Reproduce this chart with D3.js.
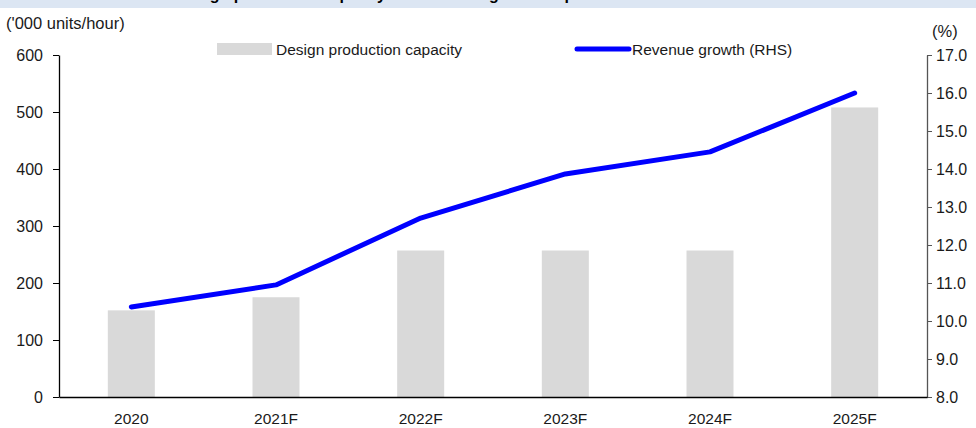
<!DOCTYPE html>
<html>
<head>
<meta charset="utf-8">
<script src="https://cdn.jsdelivr.net/npm/d3@7"></script>
<style>
  html, body { margin: 0; padding: 0; background: #fff; }
  svg { display: block; font-family: "Liberation Sans", Arial, sans-serif; }
  .tick text { fill: #1a1a1a; }
</style>
</head>
<body>
<svg id="chart" width="976" height="428"></svg>
<script>
// Chart data
const years = ["2020", "2021F", "2022F", "2023F", "2024F", "2025F"];
const capacity = [152, 175, 257, 257, 257, 508];               // '000 units/hour
const revenueGrowth = [10.37, 10.95, 12.71, 13.87, 14.45, 16.0]; // %
const leftTicks = [0, 100, 200, 300, 400, 500, 600];
const rightTicks = [8, 9, 10, 11, 12, 13, 14, 15, 16, 17];

const svg = d3.select("#chart");
const W = 976, H = 428;
const plot = { left: 59, right: 927, top: 55, bottom: 397 };

// Title band
svg.append("rect").attr("x", 0).attr("y", 0).attr("width", W).attr("height", 8)
  .attr("fill", "#dce6f3");
svg.append("text")
  .attr("x", 176).attr("y", -0.5)
  .attr("font-size", 16).attr("font-weight", "bold").attr("fill", "#000")
  .text("Design production capacity and revenue growth expectations");

// Scales
const x = d3.scaleBand().domain(years).range([plot.left, plot.right])
  .paddingInner(0.675).paddingOuter(0.3375);
const yL = d3.scaleLinear().domain([0, 600]).range([plot.bottom, plot.top]);
const yR = d3.scaleLinear().domain([8, 17]).range([plot.bottom, plot.top]);

// Bars
svg.append("g").selectAll("rect").data(years).join("rect")
  .attr("x", d => x(d))
  .attr("width", x.bandwidth())
  .attr("y", (d, i) => yL(capacity[i]))
  .attr("height", (d, i) => yL(0) - yL(capacity[i]))
  .attr("fill", "#d9d9d9");

// Left axis
const axL = svg.append("g").attr("transform", `translate(${plot.left},0)`)
  .call(d3.axisLeft(yL).tickValues(leftTicks).tickSize(6).tickPadding(10).tickSizeOuter(0));
axL.select(".domain").attr("stroke", "#000").attr("stroke-width", 1.3);
axL.selectAll(".tick line").attr("stroke", "#000");
axL.selectAll(".tick text").attr("font-size", 16);

// Right axis
const axR = svg.append("g").attr("transform", `translate(${plot.right},0)`)
  .call(d3.axisRight(yR).tickValues(rightTicks).tickFormat(d3.format(".1f"))
    .tickSize(5).tickPadding(4).tickSizeOuter(0));
axR.select(".domain").attr("stroke", "#555").attr("stroke-width", 1.3);
axR.selectAll(".tick line").attr("stroke", "#555");
axR.selectAll(".tick text").attr("font-size", 16);

// Bottom axis (category labels, no ticks)
const axB = svg.append("g").attr("transform", `translate(0,${plot.bottom})`)
  .call(d3.axisBottom(x).tickSize(0).tickPadding(16));
axB.select(".domain").attr("stroke", "#000").attr("stroke-width", 1.3);
axB.selectAll(".tick text").attr("font-size", 15.5);

// Revenue growth line
const line = d3.line()
  .x((d, i) => x(years[i]) + x.bandwidth() / 2)
  .y(d => yR(d));
svg.append("path").datum(revenueGrowth)
  .attr("d", line)
  .attr("fill", "none").attr("stroke", "#0000ff").attr("stroke-width", 5)
  .attr("stroke-linejoin", "round").attr("stroke-linecap", "round");

// Axis unit labels
svg.append("text").attr("x", 6).attr("y", 29).attr("font-size", 16.5).attr("fill", "#1a1a1a")
  .text("('000 units/hour)");
svg.append("text").attr("x", 932).attr("y", 37).attr("font-size", 16.5).attr("fill", "#1a1a1a")
  .text("(%)");

// Legend
const lg = svg.append("g");
lg.append("rect").attr("x", 217).attr("y", 43).attr("width", 55).attr("height", 12).attr("fill", "#d9d9d9");
lg.append("text").attr("x", 276).attr("y", 54.5).attr("font-size", 15.5).attr("fill", "#1a1a1a")
  .text("Design production capacity");
lg.append("line").attr("x1", 577).attr("x2", 629).attr("y1", 49).attr("y2", 49)
  .attr("stroke", "#0000ff").attr("stroke-width", 5).attr("stroke-linecap", "round");
lg.append("text").attr("x", 632).attr("y", 54.5).attr("font-size", 15.5).attr("fill", "#1a1a1a")
  .text("Revenue growth (RHS)");
</script>
</body>
</html>
